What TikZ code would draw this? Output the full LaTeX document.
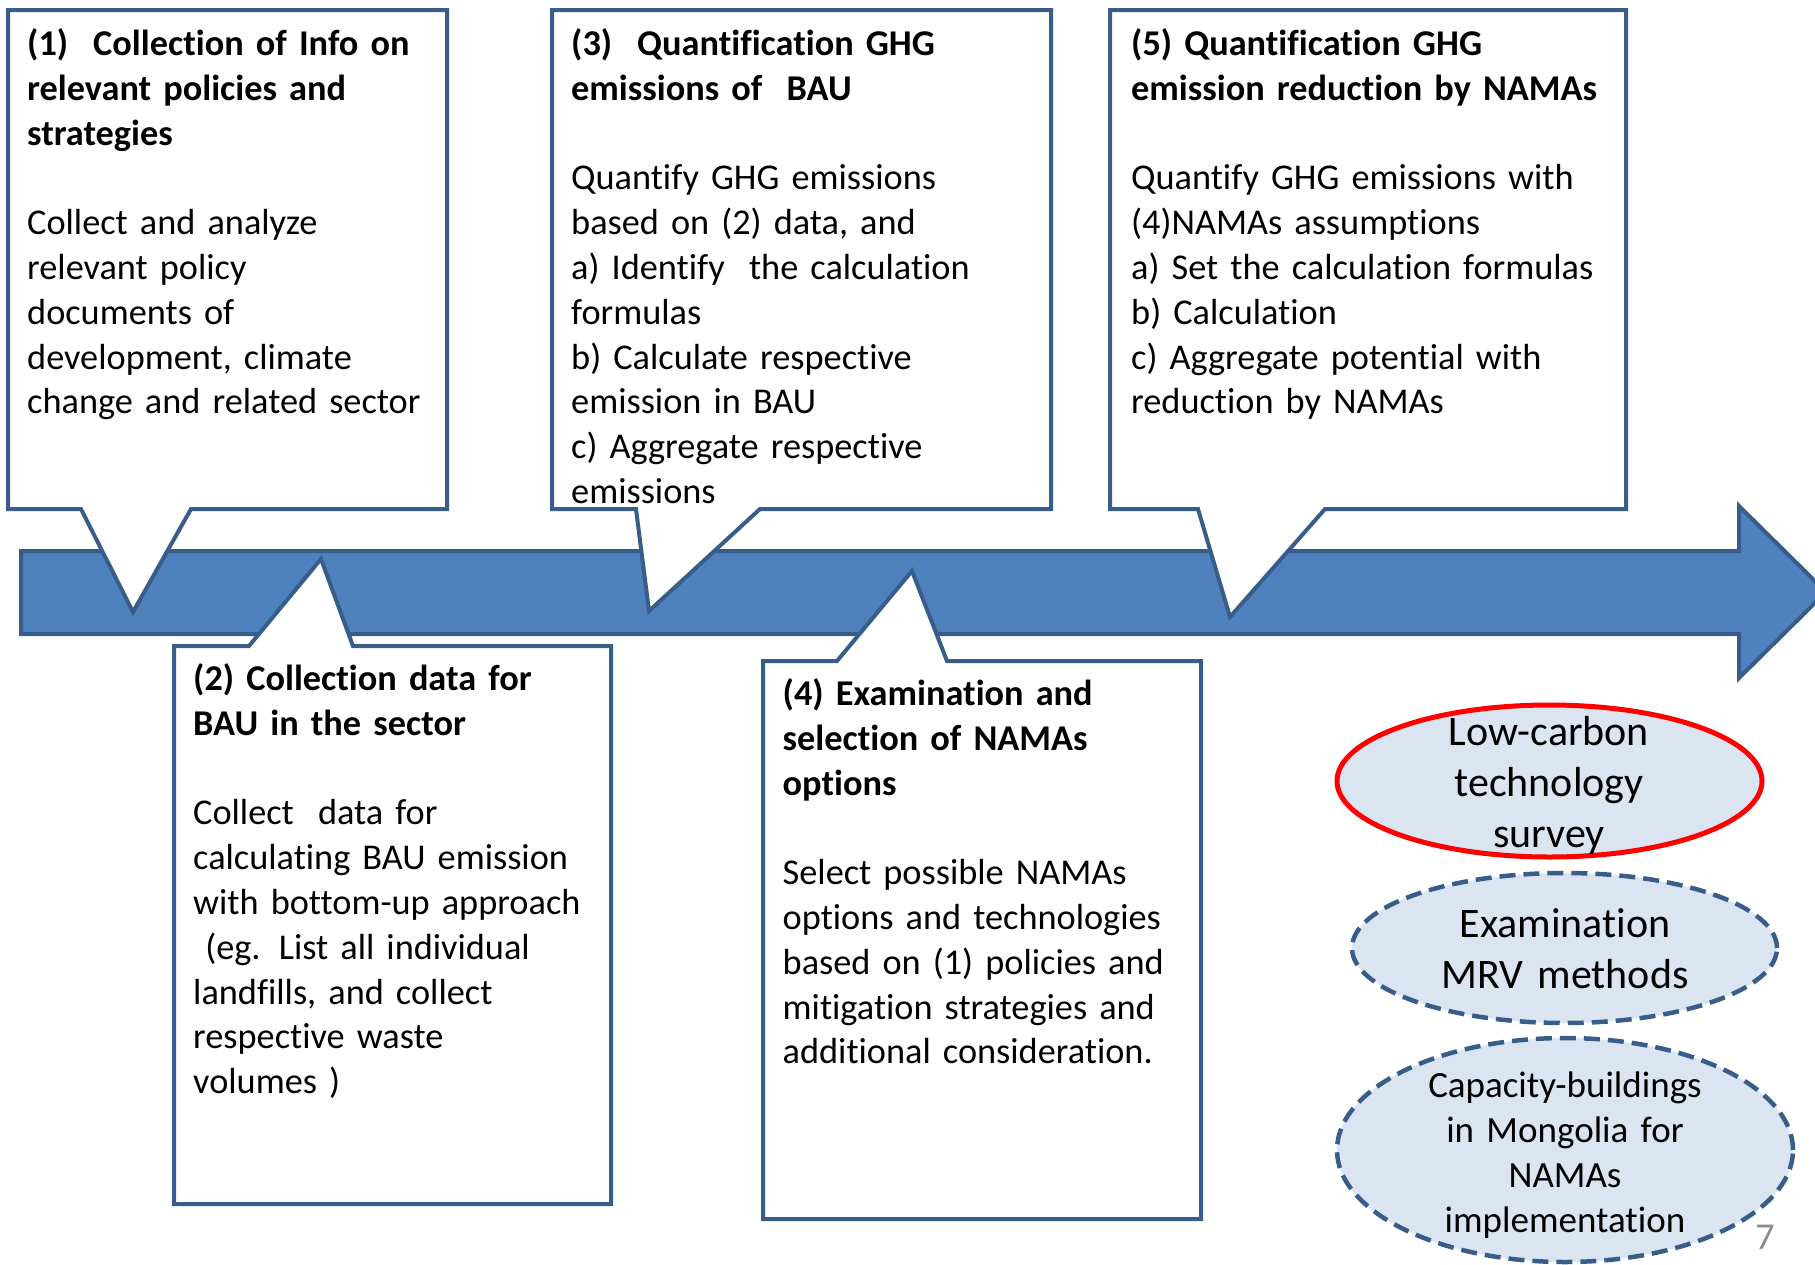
\documentclass[tikz,border=0pt]{standalone}
\usepackage{fontspec}
\setmainfont{Carlito}[Ligatures=NoCommon]
\definecolor{barfill}{HTML}{4F81BD}
\definecolor{bdr}{HTML}{385D8A}
\definecolor{elfill}{HTML}{DBE5F1}
\definecolor{pgnum}{HTML}{8C8C8C}
\definecolor{redline}{HTML}{FF0000}
\begin{document}
\begin{tikzpicture}[x=1pt,y=-1pt,
  callout/.style={draw=bdr,line width=4pt,fill=white,line join=miter},
  bararrow/.style={draw=bdr,line width=4pt,fill=barfill,line join=miter},
  boxtext/.style={anchor=north west,inner sep=0pt,text width=560pt,align=left,
    font=\fontsize{36.3}{44.8}\selectfont},
  ovalred/.style={draw=redline,line width=5pt,fill=elfill},
  ovaldash/.style={draw=bdr,line width=4.5pt,fill=elfill,dash pattern=on 16pt off 8pt},
  ovaltextbig/.style={inner sep=0pt,text width=440pt,align=center,
    font=\fontsize{42}{51}\selectfont},
  ovaltext/.style={inner sep=0pt,text width=440pt,align=center,
    font=\fontsize{37}{45}\selectfont}
]
\useasboundingbox (0,0) rectangle (1815,1264);

% timeline arrow
\draw[bararrow] (21,551) -- (1739,551) -- (1739,506) -- (1826,592) -- (1739,678)
  -- (1739,634) -- (21,634) -- cycle;

% callouts
\draw[callout] (8,10) -- (447,10) -- (447,509) -- (191,509) -- (133,612) -- (81,509)
  -- (8,509) -- cycle;
\draw[callout] (552,10) -- (1051,10) -- (1051,509) -- (760,509) -- (649,611) -- (636,509)
  -- (552,509) -- cycle;
\draw[callout] (1110,10) -- (1626,10) -- (1626,509) -- (1325,509) -- (1230,617) -- (1198,509)
  -- (1110,509) -- cycle;
\draw[callout] (174,646) -- (249,646) -- (321,559) -- (353,646) -- (611,646) -- (611,1204)
  -- (174,1204) -- cycle;
\draw[callout] (763,661) -- (837,661) -- (912,571) -- (947,661) -- (1201,661) -- (1201,1219)
  -- (763,1219) -- cycle;

% texts
\node[boxtext] (t1) at (27,24) {\strut\textbf{(1)\hspace{25pt}Collection of Info on\\relevant policies and\\strategies}\\[44.8pt]Collect and analyze\\relevant policy\\documents of\\development, climate\\change and related sector};

\node[boxtext] (t3) at (571,24) {\strut\textbf{(3)\hspace{25pt}Quantification GHG\\emissions of~ BAU}\\[44.8pt]Quantify GHG emissions\\based on (2) data, and\\a) Identify~ the calculation\\formulas\\b) Calculate respective\\emission in BAU\\c) Aggregate respective\\emissions};

\node[boxtext] (t5) at (1131,24) {\strut\textbf{(5) Quantification GHG\\emission reduction by NAMAs}\\[44.8pt]Quantify GHG emissions with\\(4)NAMAs assumptions\\a) Set the calculation formulas\\b) Calculation\\c) Aggregate potential with\\reduction by NAMAs};

\node[boxtext] (t2) at (193,659) {\strut\textbf{(2) Collection data for\\BAU in the sector}\\[44.8pt]Collect~ data for\\calculating BAU emission\\with bottom-up approach\\~(eg. List all individual\\landfills, and collect\\respective waste\\volumes )};

\node[boxtext] (t4) at (782.5,674) {\strut\textbf{(4) Examination and\\selection of NAMAs\\options}\\[44.8pt]Select possible NAMAs\\options and technologies\\based on (1) policies and\\mitigation strategies and\\additional consideration.};

% ellipses
\draw[ovalred] (1549.5,781) ellipse [x radius=212.5pt, y radius=76pt];
\draw[ovaldash] (1564.5,948) ellipse [x radius=212.5pt, y radius=75pt];
\draw[ovaldash] (1565,1150) ellipse [x radius=228pt, y radius=112pt];

\node[ovaltextbig] (e1) at (1549,786.5) {\strut Low-carbon\\technology\\survey\strut};
\node[ovaltextbig] (e2) at (1565,953) {\strut Examination\\MRV methods\strut};
\node[ovaltext] (e3) at (1565,1156) {\strut Capacity-buildings\\in Mongolia for\\NAMAs\\implementation\strut};

\node[inner sep=0pt,text=pgnum,font=\fontsize{38}{44}\selectfont] (pg) at (1765,1237) {7};
\end{tikzpicture}
\end{document}
